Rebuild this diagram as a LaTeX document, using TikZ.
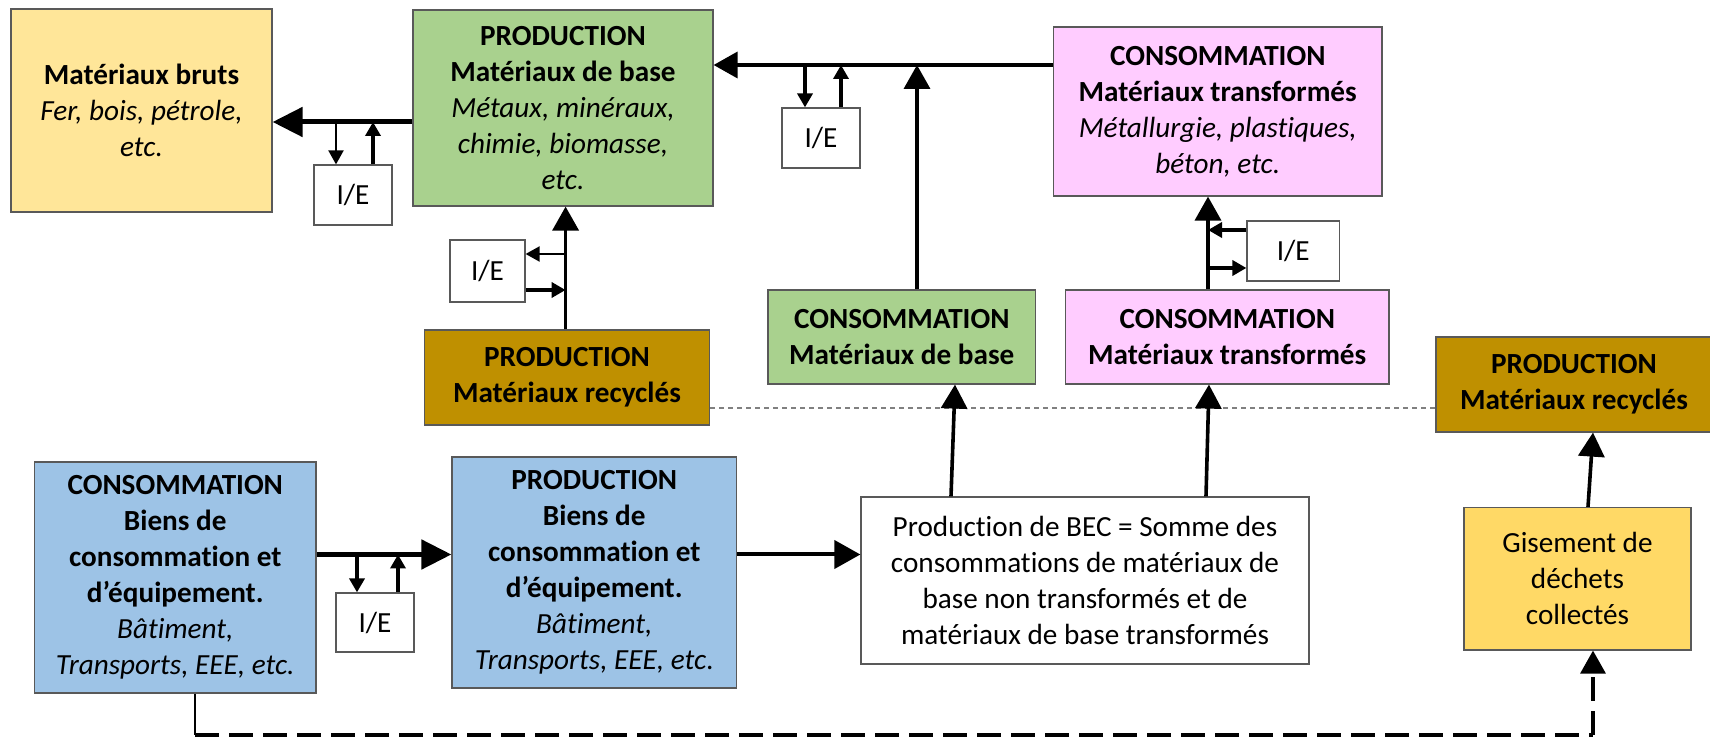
\documentclass[tikz,border=0pt]{standalone}
\usepackage{fontspec}
\setmainfont{Carlito}[Ligatures=NoCommon]
\usetikzlibrary{arrows.meta}
\definecolor{cBrut}{HTML}{FFE699}
\definecolor{cGreen}{HTML}{A9D18E}
\definecolor{cBrown}{HTML}{BF9000}
\definecolor{cPink}{HTML}{FFCCFF}
\definecolor{cBlue}{HTML}{9DC3E6}
\definecolor{cGis}{HTML}{FFD966}
\tikzset{
  box/.style={draw=black!65, line width=0.6pt, align=center, inner sep=2pt,
    font=\fontsize{14.6}{18}\selectfont},
  iebox/.style={box, fill=white, minimum height=30pt},
  bigarr/.style={line width=2.5pt, -{Triangle[length=15pt,width=14.5pt]}},
  medarr/.style={line width=1.8pt, -{Triangle[length=12pt,width=13pt]}},
  thinarr/.style={line width=1pt, -{Triangle[length=7pt,width=7.5pt]}},
  thkarr/.style={line width=2pt, -{Triangle[length=7pt,width=7.5pt]}},
  dotline/.style={draw=black!50, line width=0.8pt, dash pattern=on 2.5pt off 2pt},
  dashline/.style={line width=1.6pt, dash pattern=on 12pt off 5pt},
}
\begin{document}
\begin{tikzpicture}[x=0.5pt, y=-0.5pt]
\useasboundingbox (0,0) rectangle (1710,737);

% boxes
\node[box, fill=cBrut, minimum width=130.5pt, minimum height=101.5pt] (bruts) at (141.5,110.5)
  {\textbf{Matériaux bruts}\\\textit{Fer, bois, pétrole,}\\\textit{etc.}};
\node[box, fill=cGreen, minimum width=150pt, minimum height=98pt] (prodbase) at (563,108)
  {\textbf{PRODUCTION}\\\textbf{Matériaux de base}\\\textit{Métaux, minéraux,}\\\textit{chimie, biomasse,}\\\textit{etc.}};
\node[iebox, minimum width=39pt] (ie1) at (353,195) {I/E};
\node[iebox, minimum width=37.5pt, minimum height=31pt] (ie2) at (487.5,271) {I/E};
\node[box, fill=cBrown, minimum width=142.5pt, minimum height=47.5pt] (recyc1) at (567,377.5)
  {\textbf{PRODUCTION}\\\textbf{Matériaux recyclés}};
\node[iebox, minimum width=39pt] (ie3) at (821,138) {I/E};
\node[box, fill=cPink, minimum width=164.25pt, minimum height=84.5pt] (consT) at (1217.75,111.5)
  {\textbf{CONSOMMATION}\\\textbf{Matériaux transformés}\\\textit{Métallurgie, plastiques,}\\\textit{béton, etc.}};
\node[box, fill=cGreen, minimum width=133.75pt, minimum height=47pt] (consB) at (901.75,337)
  {\textbf{CONSOMMATION}\\\textbf{Matériaux de base}};
\node[box, fill=cPink, minimum width=161.75pt, minimum height=47pt] (consT2) at (1227.25,337)
  {\textbf{CONSOMMATION}\\\textbf{Matériaux transformés}};
\node[iebox, minimum width=46.25pt] (ie4) at (1293.25,251) {I/E};
\node[box, fill=cBrown, minimum width=138pt, minimum height=47.5pt] (recyc2) at (1574,384.5)
  {\textbf{PRODUCTION}\\\textbf{Matériaux recyclés}};
\node[box, fill=cBlue, minimum width=140.75pt, minimum height=115.5pt] (consbiens) at (175.25,577.5)
  {\textbf{CONSOMMATION}\\\textbf{Biens de}\\\textbf{consommation et}\\\textbf{d’équipement.}\\\textit{Bâtiment,}\\\textit{Transports, EEE, etc.}};
\node[box, fill=cBlue, minimum width=142.25pt, minimum height=115.5pt] (prodbiens) at (594.25,572.5)
  {\textbf{PRODUCTION}\\\textbf{Biens de}\\\textbf{consommation et}\\\textbf{d’équipement.}\\\textit{Bâtiment,}\\\textit{Transports, EEE, etc}.};
\node[iebox, minimum width=39pt, minimum height=29.5pt] (ie5) at (375,622.5) {I/E};
\node[box, fill=white, minimum width=224pt, minimum height=83.5pt] (bec) at (1085,580.5)
  {Production de BEC = Somme des\\consommations de matériaux de\\base non transformés et de\\matériaux de base transformés};
\node[box, fill=cGis, minimum width=113.5pt, minimum height=71.25pt] (gis) at (1577.5,578.75)
  {Gisement de\\déchets\\collectés};

% dotted line
\draw[dotline] (recyc1.east |- 0,408) -- (recyc2.west |- 0,408);

% top-left flow
\draw[bigarr] (prodbase.west |- 0,122) -- (bruts.east |- 0,122);
\draw[thinarr] (336,122) -- (336,0 |- ie1.north);
\draw[thkarr] (373,0 |- ie1.north) -- (373,122);

% top flow
\coordinate (j1) at (917,65);
\draw[medarr] (consT.west |- 0,65) -- (prodbase.east |- 0,65);
\draw[thkarr] (805,65) -- (805,0 |- ie3.north);
\draw[thkarr] (841,0 |- ie3.north) -- (841,65);
\draw[medarr] (consB.north -| j1) -- (j1);

% recycled -> base
\draw[medarr] (565.6,0 |- recyc1.north) -- (565.6,0 |- prodbase.south);
\draw[thinarr] (565.6,254) -- (ie2.east |- 0,254);
\draw[thkarr] (ie2.east |- 0,290) -- (565.6,290);

% transformed
\draw[medarr] (1208,0 |- consT2.north) -- (1208,0 |- consT.south);
\draw[thkarr] (ie4.west |- 0,230) -- (1208,230);
\draw[thkarr] (1208,268) -- (ie4.west |- 0,268);

% bottom flow
\draw[bigarr] (consbiens.east |- 0,554.5) -- (prodbiens.west |- 0,554.5);
\draw[thkarr] (357,554.5) -- (357,0 |- ie5.north);
\draw[thkarr] (398,0 |- ie5.north) -- (398,554.5);
\draw[line width=2pt, -{Triangle[length=13pt,width=14pt]}] (prodbiens.east |- 0,554.5) -- (bec.west |- 0,554.5);
\draw[medarr] (951,0 |- bec.north) -- (955,0 |- consB.south);
\draw[medarr] (1206,0 |- bec.north) -- (1209,0 |- consT2.south);
\draw[medarr] (1588,0 |- gis.north) -- (1593,0 |- recyc2.south);

% dashed return path
\coordinate (d1) at (195,735);
\coordinate (d2) at (1593,735);
\draw[line width=1pt] (consbiens.south -| d1) -- (d1);
\draw[dashline] (d1) -- (d2);
\draw[dashline, -{Triangle[length=11.5pt,width=12.5pt]}] (d2) -- (gis.south -| d2);
\end{tikzpicture}
\end{document}
